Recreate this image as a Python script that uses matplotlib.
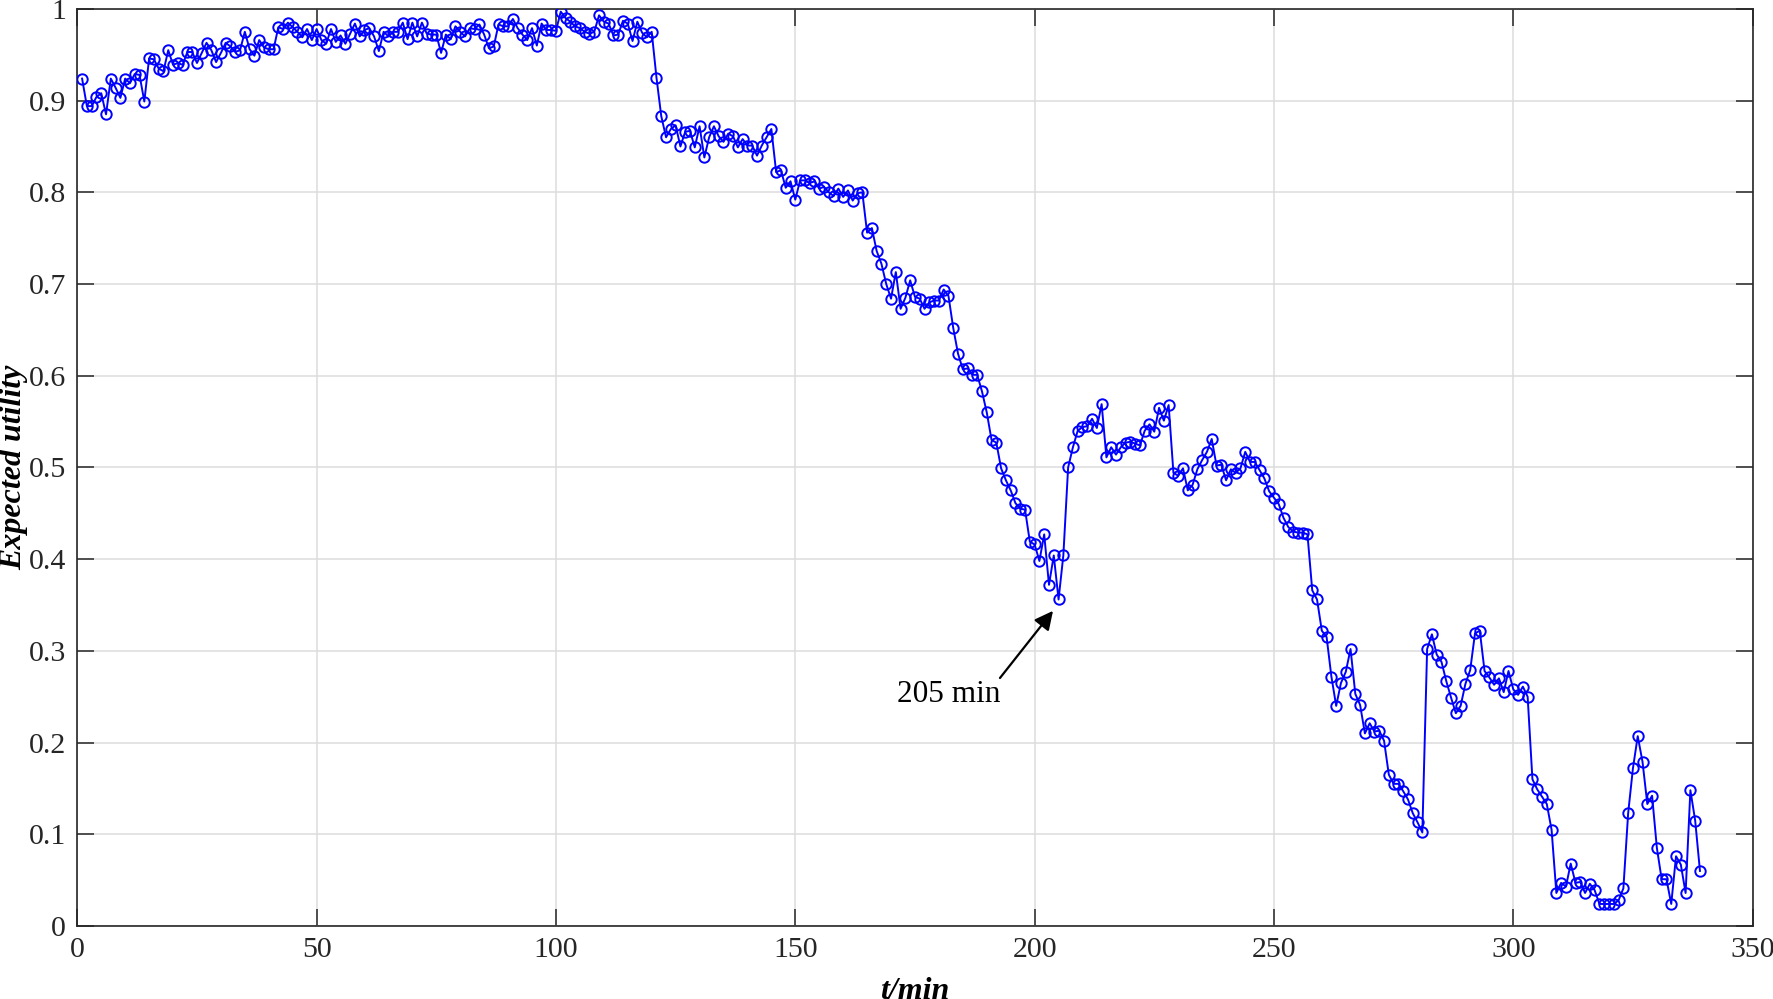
import numpy as np
from matplotlib import pyplot as plt

# expected utility per minute (t = 1..339 min)
utility_01_60 = [
    0.924, 0.894, 0.894, 0.904, 0.908, 0.885, 0.924, 0.914, 0.903, 0.924,
    0.919, 0.929, 0.928, 0.899, 0.946, 0.945, 0.935, 0.932, 0.955, 0.939,
    0.941, 0.939, 0.953, 0.953, 0.941, 0.952, 0.963, 0.955, 0.942, 0.952,
    0.963, 0.959, 0.953, 0.955, 0.975, 0.956, 0.949, 0.966, 0.958, 0.956,
    0.956, 0.980, 0.978, 0.985, 0.980, 0.975, 0.969, 0.978, 0.966, 0.978,
    0.966, 0.962, 0.978, 0.964, 0.971, 0.962, 0.973, 0.984, 0.970, 0.977,
]
utility_61_120 = [
    0.979, 0.970, 0.954, 0.975, 0.970, 0.975, 0.975, 0.985, 0.967, 0.985,
    0.970, 0.985, 0.973, 0.972, 0.972, 0.952, 0.972, 0.967, 0.981, 0.975,
    0.970, 0.979, 0.978, 0.983, 0.972, 0.957, 0.959, 0.983, 0.981, 0.981,
    0.989, 0.979, 0.972, 0.966, 0.979, 0.960, 0.984, 0.977, 0.977, 0.976,
    0.997, 0.990, 0.986, 0.981, 0.979, 0.975, 0.973, 0.975, 0.993, 0.986,
    0.984, 0.971, 0.972, 0.987, 0.984, 0.965, 0.986, 0.974, 0.969, 0.975,
]
utility_121_180 = [
    0.925, 0.883, 0.860, 0.869, 0.873, 0.850, 0.866, 0.867, 0.849, 0.872,
    0.838, 0.860, 0.872, 0.861, 0.855, 0.864, 0.861, 0.849, 0.858, 0.851,
    0.851, 0.840, 0.851, 0.860, 0.869, 0.822, 0.824, 0.805, 0.812, 0.792,
    0.813, 0.813, 0.810, 0.812, 0.804, 0.806, 0.800, 0.796, 0.804, 0.795,
    0.802, 0.791, 0.799, 0.800, 0.756, 0.761, 0.736, 0.722, 0.700, 0.684,
    0.713, 0.673, 0.685, 0.704, 0.686, 0.684, 0.673, 0.680, 0.682, 0.682,
]
utility_181_240 = [
    0.694, 0.687, 0.652, 0.624, 0.607, 0.608, 0.601, 0.601, 0.583, 0.560,
    0.530, 0.527, 0.499, 0.486, 0.475, 0.461, 0.455, 0.454, 0.419, 0.416,
    0.398, 0.427, 0.372, 0.404, 0.356, 0.404, 0.500, 0.522, 0.540, 0.544,
    0.545, 0.553, 0.543, 0.569, 0.511, 0.522, 0.514, 0.522, 0.527, 0.528,
    0.526, 0.524, 0.540, 0.547, 0.539, 0.565, 0.551, 0.568, 0.494, 0.491,
    0.499, 0.475, 0.481, 0.498, 0.508, 0.517, 0.531, 0.502, 0.503, 0.486,
]
utility_241_300 = [
    0.498, 0.494, 0.499, 0.517, 0.506, 0.506, 0.497, 0.488, 0.474, 0.467,
    0.460, 0.445, 0.435, 0.430, 0.429, 0.429, 0.427, 0.366, 0.356, 0.322,
    0.315, 0.272, 0.240, 0.265, 0.277, 0.302, 0.253, 0.241, 0.210, 0.221,
    0.212, 0.213, 0.202, 0.165, 0.155, 0.155, 0.147, 0.138, 0.123, 0.113,
    0.102, 0.302, 0.318, 0.296, 0.288, 0.267, 0.249, 0.232, 0.240, 0.264,
    0.279, 0.319, 0.322, 0.278, 0.271, 0.263, 0.270, 0.255, 0.278, 0.258,
]
utility_301_339 = [
    0.252, 0.261, 0.250, 0.160, 0.149, 0.141, 0.133, 0.105, 0.036, 0.047,
    0.043, 0.068, 0.047, 0.048, 0.036, 0.046, 0.039, 0.024, 0.024, 0.024,
    0.024, 0.028, 0.041, 0.123, 0.172, 0.207, 0.179, 0.133, 0.142, 0.085,
    0.051, 0.051, 0.024, 0.076, 0.067, 0.036, 0.148, 0.115, 0.060,
]

utility = (utility_01_60 + utility_61_120 + utility_121_180
           + utility_181_240 + utility_241_300 + utility_301_339)
minutes = np.arange(1, len(utility) + 1)

x_ticks = [0, 50, 100, 150, 200, 250, 300, 350]
y_ticks = [0, 0.1, 0.2, 0.3, 0.4, 0.5, 0.6, 0.7, 0.8, 0.9, 1]
y_ticklabels = ["0", "0.1", "0.2", "0.3", "0.4", "0.5", "0.6", "0.7", "0.8", "0.9", "1"]

mark_minute = 205
mark_label = "205 min"

plt.rcParams["font.family"] = ["Liberation Serif", "DejaVu Serif"]

fig = plt.figure(figsize=(17.73, 9.99), dpi=100)
ax = fig.add_axes([0.0436, 0.0731, 0.9449, 0.918])

ax.plot(
    minutes,
    utility,
    color="#0000ff",
    lw=1.4,
    marker="o",
    markersize=7.5,
    markerfacecolor="none",
    markeredgewidth=1.4,
    zorder=3,
)

ax.set_xlim(0, 350)
ax.set_ylim(0, 1)
ax.set_xticks(x_ticks)
ax.set_yticks(y_ticks)
ax.set_yticklabels(y_ticklabels)
ax.grid(True, color="#dcdcdc", lw=1.1, zorder=0)
ax.set_axisbelow(True)

for s in ax.spines.values():
    s.set_color("#262626")
    s.set_linewidth(1.2)
ax.tick_params(
    direction="in", length=12, width=1.1, color="#262626",
    top=True, right=True, labelsize=21.5, labelcolor="#262626", pad=8,
)

ax.set_xlabel("t/min", fontsize=23, fontweight="bold", style="italic")
ax.set_ylabel("Expected utility", fontsize=23, fontweight="bold", style="italic")
ax.xaxis.set_label_coords(0.5, -0.056)
ax.yaxis.set_label_coords(-0.0295, 0.5)

# arrow to the minimum at 205 min
mark_value = utility[mark_minute - 1]
ax.annotate(
    "",
    xy=(mark_minute - 0.8, mark_value - 0.01),
    xytext=(192.4, 0.268),
    arrowprops=dict(arrowstyle="-|>", color="black", lw=1.6, mutation_scale=28),
    zorder=4,
)
ax.text(182, 0.252, mark_label, fontsize=22.5, ha="center", va="center", color="black")

fig.savefig("out.png", dpi=100)
